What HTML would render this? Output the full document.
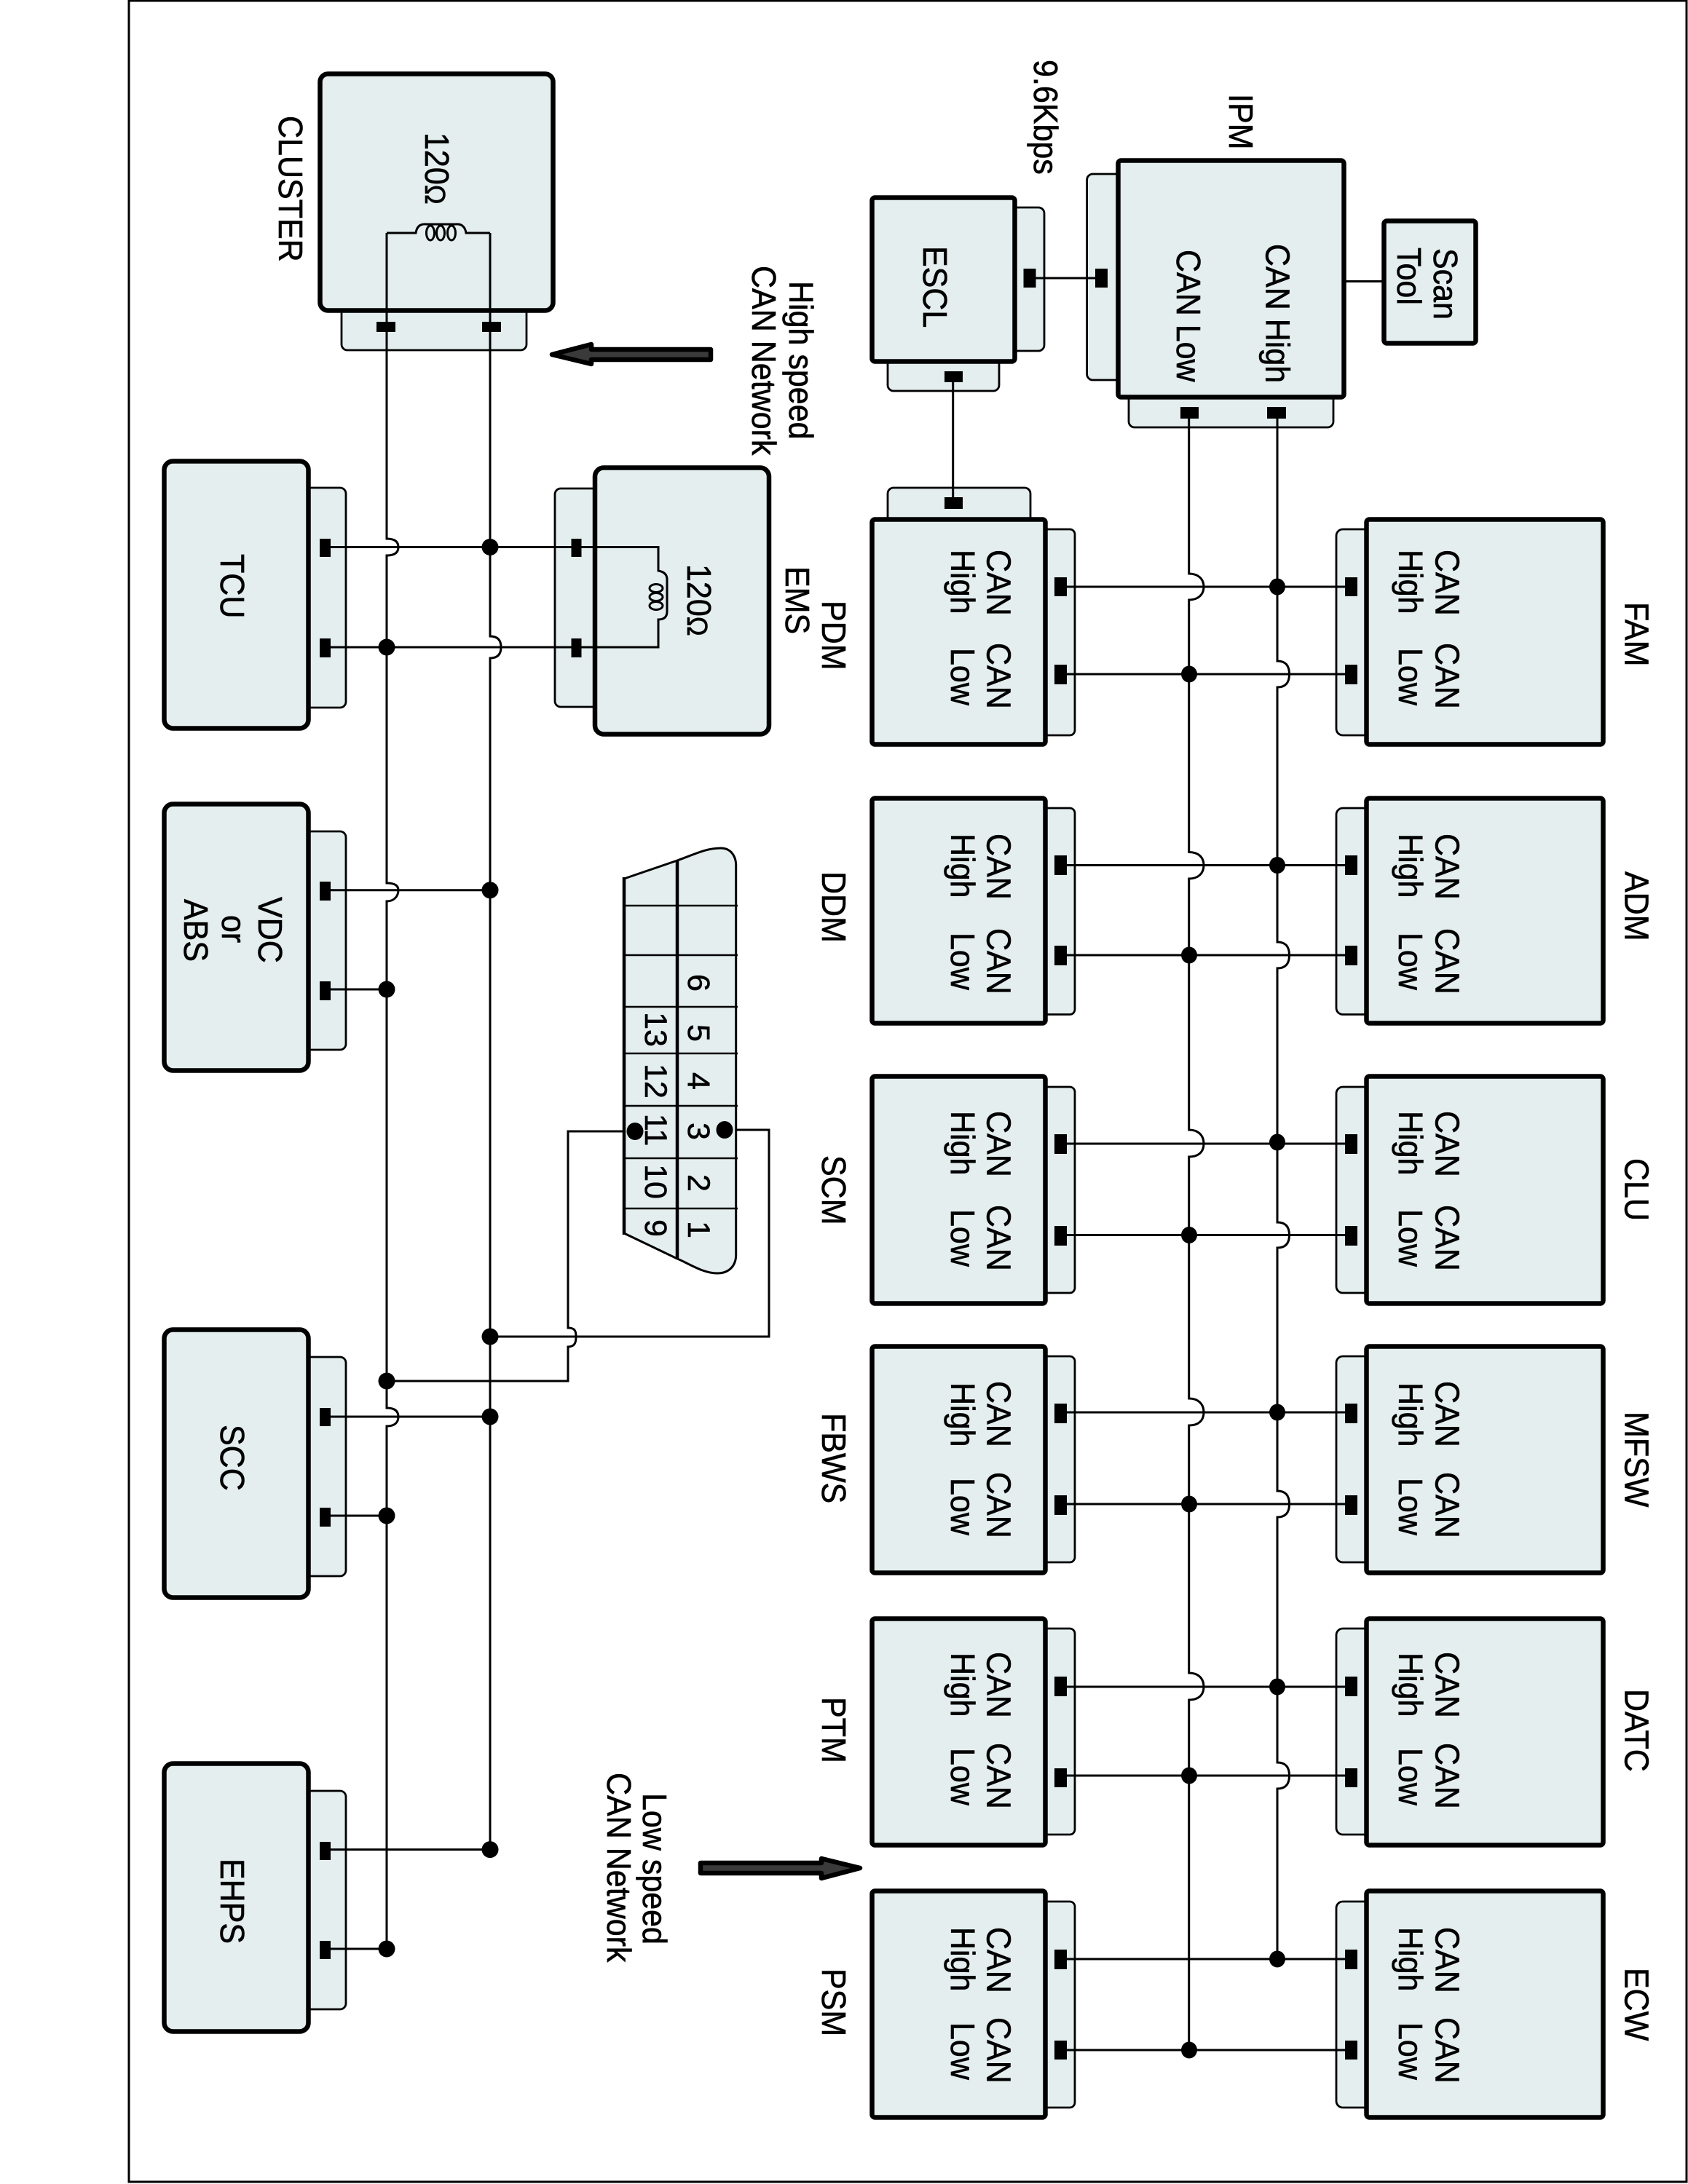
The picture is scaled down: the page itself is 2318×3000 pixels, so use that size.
<!DOCTYPE html>
<html><head><meta charset="utf-8"><style>
html,body{margin:0;padding:0;background:#fff}
svg{display:block}
text{font-family:"Liberation Sans",sans-serif;font-size:43px;fill:#000;stroke:#000;stroke-width:.6px}
.b{fill:#e4eeee;stroke:#000;stroke-width:6.5}
.c{fill:#e4eeee;stroke:#000;stroke-width:2.8}
.w{fill:none;stroke:#000;stroke-width:3}
.p{fill:#000}
</style></head><body>
<svg width="2318" height="3000" viewBox="0 0 2318 3000" xmlns="http://www.w3.org/2000/svg">
<rect width="2318" height="3000" fill="#fff"/>
<rect x="177" y="1" width="2139" height="2996" fill="#fff" stroke="#000" stroke-width="3"/>

<!-- Left side modules -->
<rect class="c" x="469" y="400" width="254" height="81" rx="8"/>
<rect class="b" x="439.500" y="101.500" width="320" height="325" rx="11"/>
<rect class="c" x="400" y="670" width="75" height="302" rx="8"/>
<rect class="b" x="225.500" y="633.500" width="198" height="367" rx="12"/>
<rect class="c" x="762" y="671" width="90" height="300" rx="8"/>
<rect class="b" x="817" y="642.500" width="239" height="366" rx="12"/>
<rect class="c" x="400" y="1142" width="75" height="300" rx="8"/>
<rect class="b" x="225.500" y="1104.500" width="198" height="366" rx="12"/>
<rect class="c" x="400" y="1864" width="75" height="301" rx="8"/>
<rect class="b" x="225.500" y="1826.500" width="198" height="368" rx="12"/>
<rect class="c" x="400" y="2460" width="75" height="300" rx="8"/>
<rect class="b" x="225.500" y="2422.500" width="198" height="368" rx="12"/>

<!-- Left wires -->
<path class="w" d="M531 320V740C543 740 547 745 547 751.500C547 758 543 763 531 763V1213C543 1213 547 1217 547 1222.700C547 1229 543 1238 531 1238V1934C543 1934 547 1939 547 1946C547 1953 543 1959 531 1959V2677"/>
<path class="w" d="M673 320V874C684 874 688 880 688 889C688 898 684 904 673 904V2540.600"/>
<path class="w" d="M531 320H571Q573 307 585 308H626Q638 307 640 320H673"/>
<ellipse class="w" cx="591" cy="320" rx="5.500" ry="10"/><ellipse class="w" cx="605" cy="320" rx="5.500" ry="10"/><ellipse class="w" cx="620" cy="320" rx="5.500" ry="10"/>
<path class="w" d="M454 751.500H904V784Q916 786 916 796V840Q916 851 904 851V889H454"/>
<ellipse class="w" cx="901" cy="808" rx="9" ry="5.500"/><ellipse class="w" cx="901" cy="820" rx="9" ry="5.500"/><ellipse class="w" cx="901" cy="832" rx="9" ry="5.500"/>
<path class="w" d="M453 1222.700H673M453 1359H531M453 1946H673M453 2082H531M453 2540.600H673M453 2677H531"/>
<path class="w" d="M531 1897H780V1850C790 1850 791 1843 791 1836C791 1829 790 1824 780 1824V1554H872M673 1836H1056V1552H995"/>

<!-- Left pins -->
<rect class="p" x="517" y="442" width="26" height="14"/><rect class="p" x="662" y="442" width="26" height="14"/>
<rect class="p" x="439" y="740" width="15" height="25"/><rect class="p" x="439" y="877" width="15" height="26"/>
<rect class="p" x="784.500" y="740" width="14" height="25"/><rect class="p" x="784.500" y="877" width="14" height="26"/>
<rect class="p" x="439" y="1211" width="15" height="26"/><rect class="p" x="439" y="1348" width="15" height="26"/>
<rect class="p" x="439" y="1934" width="15" height="25"/><rect class="p" x="439" y="2071" width="15" height="26"/>
<rect class="p" x="439" y="2530" width="15" height="25"/><rect class="p" x="439" y="2666" width="15" height="25"/>

<!-- Left dots -->
<g class="p">
<circle cx="673" cy="751.500" r="11.500"/><circle cx="531" cy="889" r="11.500"/>
<circle cx="673" cy="1222.700" r="11.500"/><circle cx="531" cy="1359" r="11.500"/>
<circle cx="673" cy="1836" r="11.500"/><circle cx="531" cy="1897" r="11.500"/>
<circle cx="673" cy="1946" r="11.500"/><circle cx="531" cy="2082" r="11.500"/>
<circle cx="673" cy="2540.600" r="11.500"/><circle cx="531" cy="2677" r="11.500"/>
</g>

<!-- OBD connector -->
<path fill="#e4eeee" stroke="#000" stroke-width="3" d="M857 1207L930 1182C955 1173 970 1165 990 1165C1003 1165 1010 1175 1010.700 1187V1725C1010 1740 1000 1749 985 1749C965 1749 945 1735 930 1729L857 1694Z"/>
<path fill="none" stroke="#000" stroke-width="4.500" d="M857 1205V1696M930 1182V1729"/>
<path fill="none" stroke="#000" stroke-width="2.500" d="M857 1244H1013M857 1312H1013M857 1383H1013M857 1447H1013M857 1519H1013M857 1591H1013M857 1660H1013"/>
<ellipse class="p" cx="872" cy="1554" rx="11.500" ry="12"/><ellipse class="p" cx="995" cy="1552" rx="11.500" ry="12"/>
<g text-anchor="middle">
<text transform="matrix(0 1 -1 0 945 1350)">6</text>
<text transform="matrix(0 1 -1 0 945 1419)">5</text>
<text transform="matrix(0 1 -1 0 945 1485)">4</text>
<text transform="matrix(0 1 -1 0 945 1554)">3</text>
<text transform="matrix(0 1 -1 0 945 1625)">2</text>
<text transform="matrix(0 1 -1 0 945 1689)">1</text>
<text transform="matrix(0 1 -1 0 886 1414)">13</text>
<text transform="matrix(0 1 -1 0 886 1485)">12</text>
<text transform="matrix(0 1 -1 0 886 1552)">11</text>
<text transform="matrix(0 1 -1 0 886 1623)">10</text>
<text transform="matrix(0 1 -1 0 886 1687)">9</text>
</g>

<!-- Arrows -->
<polygon points="758,487 812,473 812,480 976,480 976,494 812,494 812,500" fill="#3a3a3a" stroke="#000" stroke-width="6.500" stroke-linejoin="round"/>
<polygon points="1181,2566 1128,2553 1128,2559 962,2559 962,2573 1128,2573 1128,2580" fill="#3a3a3a" stroke="#000" stroke-width="6.500" stroke-linejoin="round"/>

<!-- IPM / ESCL / Scan -->
<rect class="c" x="1492.600" y="239" width="70" height="283" rx="8"/>
<rect class="c" x="1550" y="520" width="281" height="67" rx="8"/>
<rect class="b" x="1535.500" y="220.500" width="310" height="325" rx="4"/>
<rect class="b" x="1900.500" y="303.500" width="126" height="168" rx="4"/>
<rect class="c" x="1370" y="285" width="64" height="197" rx="8"/>
<rect class="c" x="1219" y="470" width="153" height="67" rx="8"/>
<rect class="b" x="1197.500" y="271.500" width="196" height="225" rx="4"/>
<rect class="c" x="1219" y="670" width="196" height="60" rx="8"/>
<path class="w" d="M1848 386.500H1898M1422 382H1504M1308.700 525V683"/>
<rect class="p" x="1504" y="369" width="17" height="26"/><rect class="p" x="1405.500" y="369" width="17" height="26"/>
<rect class="p" x="1297" y="510" width="25" height="15"/><rect class="p" x="1297" y="683" width="25" height="16"/>
<rect class="p" x="1621" y="559" width="25" height="16"/><rect class="p" x="1740" y="559" width="26" height="16"/>

<!-- Right modules -->
<g id="rows">
<rect class="c" x="1400" y="727" width="76" height="283" rx="7"/><rect class="c" x="1835" y="727" width="70" height="283" rx="9"/>
<rect class="b" x="1197.500" y="713.500" width="238" height="309" rx="4"/><rect class="b" x="1876.500" y="713.500" width="325" height="309" rx="4"/>
<rect class="c" x="1400" y="1110" width="76" height="283.500" rx="7"/><rect class="c" x="1835" y="1110" width="70" height="283.500" rx="9"/>
<rect class="b" x="1197.500" y="1096.500" width="238" height="309" rx="4"/><rect class="b" x="1876.500" y="1096.500" width="325" height="309" rx="4"/>
<rect class="c" x="1400" y="1493" width="76" height="283" rx="7"/><rect class="c" x="1835" y="1493" width="70" height="283" rx="9"/>
<rect class="b" x="1197.500" y="1478.500" width="238" height="312" rx="4"/><rect class="b" x="1876.500" y="1478.500" width="325" height="312" rx="4"/>
<rect class="c" x="1400" y="1863" width="76" height="283" rx="7"/><rect class="c" x="1835" y="1863" width="70" height="283" rx="9"/>
<rect class="b" x="1197.500" y="1849.500" width="238" height="311" rx="4"/><rect class="b" x="1876.500" y="1849.500" width="325" height="311" rx="4"/>
<rect class="c" x="1400" y="2237" width="76" height="283" rx="7"/><rect class="c" x="1835" y="2237" width="70" height="283" rx="9"/>
<rect class="b" x="1197.500" y="2223.500" width="238" height="311" rx="4"/><rect class="b" x="1876.500" y="2223.500" width="325" height="311" rx="4"/>
<rect class="c" x="1400" y="2612" width="76" height="283" rx="7"/><rect class="c" x="1835" y="2612" width="70" height="283" rx="9"/>
<rect class="b" x="1197.500" y="2597.500" width="238" height="311" rx="4"/><rect class="b" x="1876.500" y="2597.500" width="325" height="311" rx="4"/>
</g>

<!-- Right wires -->
<path class="w" d="M1632.700 575V788C1645 788 1653 795 1653 806C1653 817 1645 824 1632.700 824V1170.500C1645 1170.500 1653 1177 1653 1188.500C1653 1200 1645 1207 1632.700 1207V1552C1645 1552 1653 1559 1653 1571C1653 1583 1645 1589 1632.700 1589V1921C1645 1921 1653 1928 1653 1940C1653 1952 1645 1958 1632.700 1958V2298C1645 2298 1653 2305 1653 2317C1653 2329 1645 2335 1632.700 2335V2816"/>
<path class="w" d="M1754 575V908C1766 908 1770.500 915 1770.500 926C1770.500 937 1766 944 1754 944V1294C1766 1294 1770.500 1301 1770.500 1312C1770.500 1323 1766 1330 1754 1330V1679C1766 1679 1770.500 1686 1770.500 1696.500C1770.500 1707 1766 1714 1754 1714V2048C1766 2048 1770.500 2055 1770.500 2066C1770.500 2077 1766 2084 1754 2084V2421C1766 2421 1770.500 2428 1770.500 2439C1770.500 2450 1766 2457 1754 2457V2691"/>
<path class="w" d="M1465 806H1847M1465 926H1847M1465 1188.500H1847M1465 1312H1847M1465 1571H1847M1465 1696.500H1847M1465 1940H1847M1465 2066H1847M1465 2317H1847M1465 2439H1847M1465 2691H1847M1465 2816H1847"/>

<!-- Right pins and dots -->
<g class="p">
<rect x="1448" y="793" width="17" height="26"/><rect x="1448" y="913" width="17" height="27"/><rect x="1847" y="793" width="17" height="26"/><rect x="1847" y="913" width="17" height="27"/>
<rect x="1448" y="1175" width="17" height="27"/><rect x="1448" y="1299" width="17" height="27"/><rect x="1847" y="1175" width="17" height="27"/><rect x="1847" y="1299" width="17" height="27"/>
<rect x="1448" y="1558" width="17" height="27"/><rect x="1448" y="1684" width="17" height="27"/><rect x="1847" y="1558" width="17" height="27"/><rect x="1847" y="1684" width="17" height="27"/>
<rect x="1448" y="1928" width="17" height="27"/><rect x="1448" y="2054" width="17" height="27"/><rect x="1847" y="1928" width="17" height="27"/><rect x="1847" y="2054" width="17" height="27"/>
<rect x="1448" y="2303" width="17" height="27"/><rect x="1448" y="2429" width="17" height="26"/><rect x="1847" y="2303" width="17" height="27"/><rect x="1847" y="2429" width="17" height="26"/>
<rect x="1448" y="2678" width="17" height="27"/><rect x="1448" y="2803" width="17" height="26"/><rect x="1847" y="2678" width="17" height="27"/><rect x="1847" y="2803" width="17" height="26"/>
<ellipse cx="1754" cy="806" rx="11" ry="11.500"/><ellipse cx="1633" cy="926" rx="11" ry="11.500"/>
<ellipse cx="1754" cy="1188.500" rx="11" ry="11.500"/><ellipse cx="1633" cy="1312" rx="11" ry="11.500"/>
<ellipse cx="1754" cy="1569" rx="11" ry="11.500"/><ellipse cx="1633" cy="1696.500" rx="11" ry="11.500"/>
<ellipse cx="1754" cy="1940" rx="11" ry="11.500"/><ellipse cx="1633" cy="2066" rx="11" ry="11.500"/>
<ellipse cx="1754" cy="2317" rx="11" ry="11.500"/><ellipse cx="1633" cy="2439" rx="11" ry="11.500"/>
<ellipse cx="1754" cy="2691" rx="11" ry="11.500"/><ellipse cx="1633" cy="2816" rx="11" ry="11.500"/>
</g>

<!-- Labels left -->
<text transform="matrix(0 1 -1.08 0 383 159)">CLUSTER</text>
<text transform="matrix(0 1 -1.08 0 584 182)">120<tspan style="font-size:36px">Ω</tspan></text>
<text transform="matrix(0 1 -1.08 0 944 775)">120<tspan style="font-size:36px">Ω</tspan></text>
<text transform="matrix(0 1 -1.08 0 1084 386)">High speed</text>
<text transform="matrix(0 1 -1.08 0 1033 365)">CAN Network</text>
<text transform="matrix(0 1 -1.08 0 303 761)">TCU</text>
<text transform="matrix(0 1 -1.08 0 1079 778)">EMS</text>
<text transform="matrix(0 1 -1.08 0 355 1232)">VDC</text>
<text transform="matrix(0 1 -1.08 0 305 1257)">or</text>
<text transform="matrix(0 1 -1.08 0 253 1235)">ABS</text>
<text transform="matrix(0 1 -1.08 0 303 1957)">SCC</text>
<text transform="matrix(0 1 -1.08 0 303 2553)">EHPS</text>
<text transform="matrix(0 1 -1.08 0 883 2463)">Low speed</text>
<text transform="matrix(0 1 -1.08 0 834 2435)">CAN Network</text>

<!-- Labels top right -->
<text transform="matrix(0 1 -1.08 0 1420 82)">9.6Kbps</text>
<text transform="matrix(0 1 -1.08 0 1688 129)">IPM</text>
<text transform="matrix(0 1 -1.08 0 1268 338)">ESCL</text>
<text transform="matrix(0 1 -1.08 0 1738.500 335)">CAN High</text>
<text transform="matrix(0 1 -1.08 0 1616 343)">CAN Low</text>
<text transform="matrix(0 1 -1.08 0 1969 341)">Scan</text>
<text transform="matrix(0 1 -1.08 0 1919 340)">Tool</text>

<!-- Left column names -->
<text transform="matrix(0 1 -1.08 0 1129 825)">PDM</text>
<text transform="matrix(0 1 -1.08 0 1129 1197)">DDM</text>
<text transform="matrix(0 1 -1.08 0 1129 1587)">SCM</text>
<text transform="matrix(0 1 -1.08 0 1129 1941)">FBWS</text>
<text transform="matrix(0 1 -1.08 0 1129 2331)">PTM</text>
<text transform="matrix(0 1 -1.08 0 1129 2704)">PSM</text>
<!-- Right column names -->
<text transform="matrix(0 1 -1.08 0 2231.600 827)">FAM</text>
<text transform="matrix(0 1 -1.08 0 2231.600 1197)">ADM</text>
<text transform="matrix(0 1 -1.08 0 2231.600 1591)">CLU</text>
<text transform="matrix(0 1 -1.08 0 2231.600 1939)">MFSW</text>
<text transform="matrix(0 1 -1.08 0 2231.600 2320)">DATC</text>
<text transform="matrix(0 1 -1.08 0 2231.600 2703)">ECW</text>

<!-- CAN High/Low texts: left modules -->
<text transform="matrix(0 1 -1.08 0 1355.600 755)">CAN</text><text transform="matrix(0 1 -1.08 0 1306 755)">High</text><text transform="matrix(0 1 -1.08 0 1355.600 883)">CAN</text><text transform="matrix(0 1 -1.08 0 1306 890)">Low</text>
<text transform="matrix(0 1 -1.08 0 1355.600 1145)">CAN</text><text transform="matrix(0 1 -1.08 0 1306 1145)">High</text><text transform="matrix(0 1 -1.08 0 1355.600 1275)">CAN</text><text transform="matrix(0 1 -1.08 0 1306 1281)">Low</text>
<text transform="matrix(0 1 -1.08 0 1355.600 1526)">CAN</text><text transform="matrix(0 1 -1.08 0 1306 1526)">High</text><text transform="matrix(0 1 -1.08 0 1355.600 1655)">CAN</text><text transform="matrix(0 1 -1.08 0 1306 1661)">Low</text>
<text transform="matrix(0 1 -1.08 0 1355.600 1897)">CAN</text><text transform="matrix(0 1 -1.08 0 1306 1899)">High</text><text transform="matrix(0 1 -1.08 0 1355.600 2022)">CAN</text><text transform="matrix(0 1 -1.08 0 1306 2030)">Low</text>
<text transform="matrix(0 1 -1.08 0 1355.600 2269)">CAN</text><text transform="matrix(0 1 -1.08 0 1306 2270)">High</text><text transform="matrix(0 1 -1.08 0 1355.600 2394)">CAN</text><text transform="matrix(0 1 -1.08 0 1306 2401)">Low</text>
<text transform="matrix(0 1 -1.08 0 1355.600 2647)">CAN</text><text transform="matrix(0 1 -1.08 0 1306 2647)">High</text><text transform="matrix(0 1 -1.08 0 1355.600 2771)">CAN</text><text transform="matrix(0 1 -1.08 0 1306 2778)">Low</text>
<!-- right modules -->
<text transform="matrix(0 1 -1.08 0 1971.600 755)">CAN</text><text transform="matrix(0 1 -1.08 0 1921 755)">High</text><text transform="matrix(0 1 -1.08 0 1971.600 883)">CAN</text><text transform="matrix(0 1 -1.08 0 1921 890)">Low</text>
<text transform="matrix(0 1 -1.08 0 1971.600 1145)">CAN</text><text transform="matrix(0 1 -1.08 0 1921 1145)">High</text><text transform="matrix(0 1 -1.08 0 1971.600 1275)">CAN</text><text transform="matrix(0 1 -1.08 0 1921 1281)">Low</text>
<text transform="matrix(0 1 -1.08 0 1971.600 1526)">CAN</text><text transform="matrix(0 1 -1.08 0 1921 1526)">High</text><text transform="matrix(0 1 -1.08 0 1971.600 1655)">CAN</text><text transform="matrix(0 1 -1.08 0 1921 1661)">Low</text>
<text transform="matrix(0 1 -1.08 0 1971.600 1897)">CAN</text><text transform="matrix(0 1 -1.08 0 1921 1899)">High</text><text transform="matrix(0 1 -1.08 0 1971.600 2022)">CAN</text><text transform="matrix(0 1 -1.08 0 1921 2030)">Low</text>
<text transform="matrix(0 1 -1.08 0 1971.600 2269)">CAN</text><text transform="matrix(0 1 -1.08 0 1921 2270)">High</text><text transform="matrix(0 1 -1.08 0 1971.600 2394)">CAN</text><text transform="matrix(0 1 -1.08 0 1921 2401)">Low</text>
<text transform="matrix(0 1 -1.08 0 1971.600 2647)">CAN</text><text transform="matrix(0 1 -1.08 0 1921 2647)">High</text><text transform="matrix(0 1 -1.08 0 1971.600 2771)">CAN</text><text transform="matrix(0 1 -1.08 0 1921 2778)">Low</text>
</svg>
</body></html>
